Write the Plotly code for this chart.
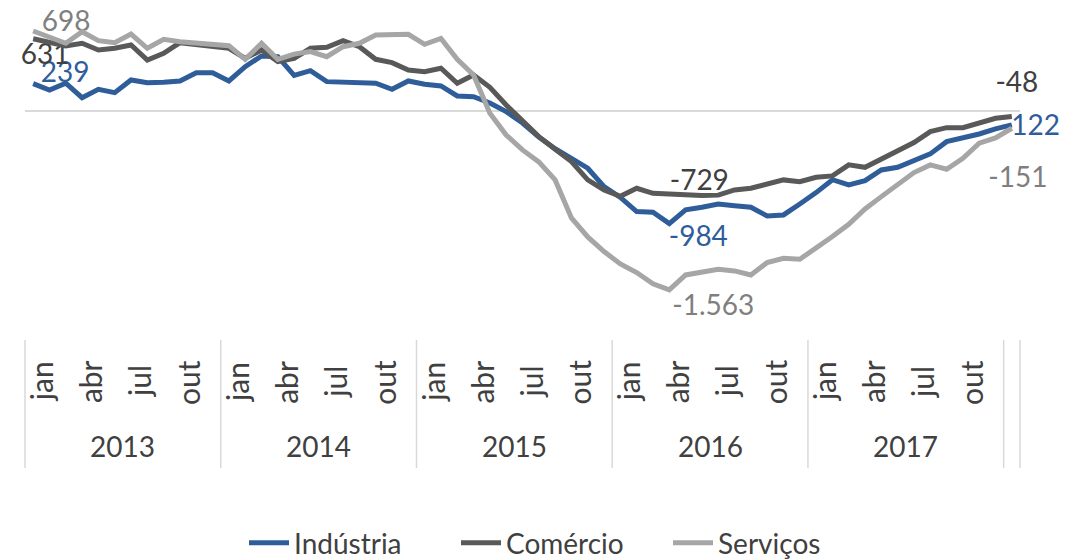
import plotly.graph_objects as go

# ---------------- data ----------------
month_names = ["jan", "fev", "mar", "abr", "mai", "jun", "jul", "ago", "set", "out", "nov", "dez"]
years = ["2013", "2014", "2015", "2016", "2017", "2018"]
year_labels = ["2013", "2014", "2015", "2016", "2017", ""]
months_per_year = [12, 12, 12, 12, 12, 1]

categories = []
for y, n in zip(years, months_per_year):
    for m in month_names[:n]:
        categories.append((y, m))

industria = [239, 183, 242, 116, 189, 160, 271, 247, 250, 262, 334, 334,
             262, 387, 480, 474, 310, 352, 256, 250, 248, 242, 189, 262,
             233, 218, 131, 125, 70, -6, -105, -227, -330, -413, -500, -661,
             -755, -879, -885, -984, -864, -841, -812, -827, -841, -917, -908, -812,
             -713, -600, -646, -608, -515, -492, -428, -375, -268, -239, -201, -157,
             -122]
comercio = [631, 600, 567, 591, 532, 547, 576, 445, 503, 596, 576, 561,
            547, 460, 532, 431, 460, 547, 556, 614, 561, 451, 422, 358,
            343, 373, 242, 314, 207, 52, -93, -224, -335, -442, -602, -690,
            -745, -675, -719, -729, -735, -738, -735, -690, -675, -637, -602, -617,
            -579, -567, -471, -492, -422, -355, -276, -180, -146, -146, -108, -64,
            -48]
servicos = [698, 649, 591, 692, 614, 596, 672, 547, 626, 605, 591, 576,
            570, 451, 591, 451, 496, 518, 474, 561, 591, 663, 663, 669,
            582, 634, 451, 314, -20, -210, -340, -445, -602, -934, -1100, -1228,
            -1336, -1411, -1510, -1563, -1432, -1403, -1382, -1397, -1432, -1324, -1286, -1295,
            -1199, -1097, -990, -856, -748, -637, -538, -471, -509, -413, -282, -235,
            -151]

series_names = ["Indústria", "Comércio", "Serviços"]
series_values = [industria, comercio, servicos]
labelled_points = [0, 39, 60]

# ---------------- styles ----------------
line_colors = ["#2F5D9A", "#595959", "#A6A6A6"]
label_colors = ["#2F5D9A", "#404040", "#7F7F7F"]
# pixel offsets (dx right, dy down) of each label from its point, and text anchoring
label_offsets = {
    (0, 0): (32, -9, "middle center"), (0, 39): (29, 15, "middle center"),
    (0, 60): (-11, 3, "middle right"),
    (1, 0): (12, 18, "middle center"), (1, 39): (30, -11, "middle center"),
    (1, 60): (5, -31, "middle center"),
    (2, 0): (33, -7, "middle center"), (2, 39): (44, 18, "middle center"),
    (2, 60): (6, 52, "middle center"),
}
FONT = "Lato, 'Open Sans', sans-serif"
FS = 28
FS_MONTH = 30
W, H = 1084, 560
PLOT_L, PLOT_R, PLOT_T, PLOT_B = 25, 1020, 8, 340   # page coordinates
ML, MT = PLOT_L, PLOT_T
MR = W - PLOT_R
MB = H - PLOT_B
plot_w = PLOT_R - PLOT_L
plot_h = PLOT_B - PLOT_T
n = len(categories)
xr = [-0.5, n - 0.5]
yr = [-2000, 899]
x_per_px = (xr[1] - xr[0]) / plot_w
y_per_px = (yr[1] - yr[0]) / plot_h


def paper_y(page_y):
    return (PLOT_B - page_y) / plot_h


def paper_x(page_x):
    return (page_x - PLOT_L) / plot_w


def fmt(v):
    return f"{v:,}".replace(",", ".")


xs = list(range(n))
fig = go.Figure()

# data labels first, so the lines are drawn on top of them
for s, vals in enumerate(series_values):
    for i in labelled_points:
        dx, dy, pos = label_offsets[(s, i)]
        fig.add_trace(go.Scatter(
            x=[xs[i] + dx * x_per_px], y=[vals[i] - dy * y_per_px],
            text=[fmt(vals[i])], mode="text", textposition=pos,
            textfont=dict(family=FONT, size=FS, color=label_colors[s]),
            showlegend=False, hoverinfo="skip", cliponaxis=False))

for s, vals in enumerate(series_values):
    fig.add_trace(go.Scatter(
        x=xs, y=vals, mode="lines", name=series_names[s],
        line=dict(color=line_colors[s], width=5)))

shapes = []
annotations = []

# month labels every third month (rotated)
for i, (y, m) in enumerate(categories):
    if y != "2018" and month_names.index(m) % 3 == 0:
        annotations.append(dict(
            x=xs[i], y=paper_y(382), xref="x", yref="paper", text=m,
            showarrow=False, textangle=-90, xanchor="center", yanchor="middle",
            xshift=8, font=dict(family=FONT, size=FS_MONTH, color="#404040")))

# group separators and year labels
start = 0
bounds = [-0.5]
for yl, cnt in zip(year_labels, months_per_year):
    end = start + cnt
    bounds.append(end - 0.5)
    if yl:
        annotations.append(dict(
            x=(start + end - 1) / 2, y=paper_y(446),
            xref="x", yref="paper", text=yl, showarrow=False,
            xanchor="center", yanchor="middle",
            font=dict(family=FONT, size=FS, color="#404040")))
    start = end
for b in bounds:
    xp = (b - xr[0]) / (xr[1] - xr[0])
    shapes.append(dict(type="line", xref="paper", yref="paper",
                       x0=xp, x1=xp, y0=0, y1=paper_y(468),
                       line=dict(color="#D9D9D9", width=1.5)))

fig.update_layout(
    width=W, height=H,
    margin=dict(l=ML, r=MR, t=MT, b=MB, autoexpand=False),
    paper_bgcolor="white", plot_bgcolor="white",
    font=dict(family=FONT, size=FS, color="#404040"),
    shapes=shapes, annotations=annotations,
    legend=dict(orientation="h", x=paper_x(244), xanchor="left",
                y=paper_y(543), yanchor="middle",
                font=dict(family=FONT, size=FS, color="#404040"),
                entrywidth=157, entrywidthmode="pixels",
                itemwidth=40, tracegroupgap=0),
    xaxis=dict(range=xr, showticklabels=False, ticks="", showgrid=False,
               zeroline=False, showline=False, fixedrange=True),
    yaxis=dict(range=yr, showticklabels=False, ticks="", showgrid=False,
               zeroline=True, zerolinecolor="#D9D9D9", zerolinewidth=2,
               showline=False, fixedrange=True),
)

fig.write_html("out.html", config={"displayModeBar": False},
               post_script="document.body.style.margin='0px';document.body.style.overflow='hidden';")
